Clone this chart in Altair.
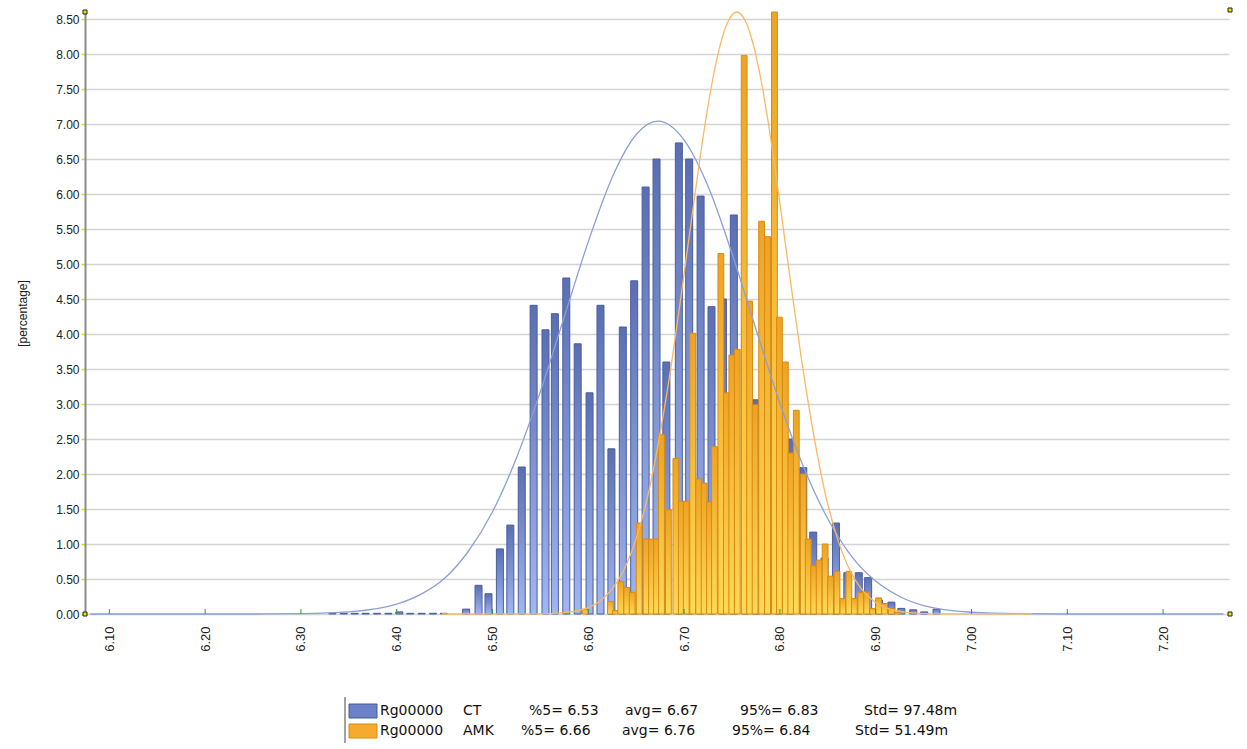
import altair as alt
import pandas as pd

# ---------------- data ----------------
# CT (blue) histogram: bin centre and percentage
ct_x = [6.3328, 6.3447, 6.3561, 6.3675, 6.3794, 6.3913, 6.4027, 6.4141, 6.4260, 6.4379, 6.4492,
        6.4725, 6.4854, 6.4958, 6.5077, 6.5186, 6.5305, 6.5429, 6.5553, 6.5651, 6.5770,
        6.5889, 6.6013, 6.6127, 6.6241, 6.6360, 6.6479, 6.6598, 6.6712, 6.6815, 6.6945,
        6.7053, 6.7172, 6.7286, 6.7405, 6.7519, 6.7638, 6.7752, 6.7866, 6.7985, 6.8104,
        6.8244, 6.8348, 6.8466, 6.8585, 6.8704, 6.8823, 6.8921, 6.9035, 6.9164, 6.9268,
        6.9392, 6.9506, 6.9635]
ct_pct = [0.01, 0.01, 0.01, 0.01, 0.01, 0.01, 0.03, 0.01, 0.01, 0.01, 0.01,
          0.07, 0.41, 0.29, 0.93, 1.27, 2.10, 4.41, 4.06, 4.29, 4.80,
          3.86, 3.16, 4.41, 2.36, 4.10, 4.76, 6.10, 6.50, 3.60, 6.73,
          6.50, 5.97, 4.39, 4.50, 5.70, 4.20, 3.06, 3.50, 2.80, 2.50,
          2.09, 1.17, 0.80, 1.30, 0.59, 0.59, 0.52, 0.20, 0.17, 0.08,
          0.06, 0.03, 0.07]

# AMK (orange) histogram: bin centre and percentage
amk_x = [6.5968, 6.6231, 6.6282, 6.6339, 6.6401, 6.6458, 6.6531, 6.6603, 6.6660, 6.6712,
         6.6764, 6.6836, 6.6914, 6.6971, 6.7022, 6.7090, 6.7152, 6.7209, 6.7265, 6.7317,
         6.7384, 6.7441, 6.7498, 6.7555, 6.7627, 6.7684, 6.7741, 6.7809, 6.7871, 6.7943,
         6.7995, 6.8057, 6.8114, 6.8171, 6.8244, 6.8296, 6.8353, 6.8410, 6.8472, 6.8529,
         6.8596, 6.8658, 6.8720, 6.8777, 6.8844, 6.8906, 6.8968, 6.9030, 6.9092, 6.9164,
         6.9231]
amk_pct = [0.07, 0.18, 0.05, 0.46, 0.38, 0.31, 1.30, 1.07, 1.07, 1.07,
           2.56, 1.49, 2.22, 1.61, 1.61, 4.01, 1.93, 1.87, 1.60, 2.39,
           5.15, 3.16, 3.70, 3.78, 7.98, 4.47, 2.99, 5.61, 5.39, 8.60,
           4.24, 3.60, 2.30, 2.91, 2.00, 1.07, 0.69, 0.77, 1.00, 0.54,
           0.61, 0.22, 0.61, 0.22, 0.31, 0.31, 0.08, 0.23, 0.15, 0.08,
           0.02]

# fitted normal curves
ct_curve_x = [6.08, 6.25, 6.30, 6.35, 6.40, 6.425, 6.45, 6.475, 6.50, 6.525, 6.55, 6.575,
              6.60, 6.625, 6.65, 6.673, 6.70, 6.725, 6.75, 6.775, 6.80, 6.825, 6.85,
              6.875, 6.90, 6.925, 6.95, 7.00, 7.05, 7.10, 7.263]
ct_curve_y = [0.0, 0.0, 0.005, 0.03, 0.14, 0.28, 0.51, 0.90, 1.46, 2.23, 3.18, 4.25,
              5.32, 6.24, 6.85, 7.04, 6.77, 6.11, 5.15, 4.07, 3.01, 2.09, 1.36,
              0.82, 0.47, 0.25, 0.12, 0.025, 0.004, 0.0, 0.0]

amk_curve_x = [6.447, 6.55, 6.575, 6.60, 6.6125, 6.625, 6.6375, 6.65, 6.6625, 6.675, 6.6875,
               6.70, 6.715, 6.7225, 6.73, 6.745, 6.755, 6.765, 6.78, 6.7875, 6.795, 6.81,
               6.8225, 6.835, 6.8475, 6.86, 6.8725, 6.885, 6.8975, 6.91, 6.935, 6.96, 7.063]
amk_curve_y = [0.0, 0.003, 0.02, 0.09, 0.19, 0.36, 0.64, 1.08, 1.71, 2.58, 3.64,
               4.86, 6.36, 7.05, 7.65, 8.44, 8.60, 8.44, 7.65, 7.05, 6.36, 4.86,
               3.64, 2.58, 1.71, 1.08, 0.64, 0.36, 0.19, 0.09, 0.02, 0.003, 0.0]

x_ticks = [6.1, 6.2, 6.3, 6.4, 6.5, 6.6, 6.7, 6.8, 6.9, 7.0, 7.1, 7.2]
y_ticks = [0, 0.5, 1, 1.5, 2, 2.5, 3, 3.5, 4, 4.5, 5, 5.5, 6, 6.5, 7, 7.5, 8, 8.5]

legend_id = ["Rg00000", "Rg00000"]
legend_series = ["CT", "AMK"]
legend_p5 = ["6.53", "6.66"]
legend_avg = ["6.67", "6.76"]
legend_p95 = ["6.83", "6.84"]
legend_std = ["97.48m", "51.49m"]

# ---------------- tables ----------------
ct_df = pd.DataFrame({"x": ct_x, "y": ct_pct})
amk_df = pd.DataFrame({"x": amk_x, "y": amk_pct})
ct_curve = pd.DataFrame({"x": ct_curve_x, "y": ct_curve_y})
amk_curve = pd.DataFrame({"x": amk_curve_x, "y": amk_curve_y})
tick_df = pd.DataFrame({"x": x_ticks})
dummy = pd.DataFrame({"k": [0]})

FONT = "Liberation Sans"

X = alt.X("x:Q",
          scale=alt.Scale(domain=[6.0798, 7.2636], nice=False, zero=False),
          axis=alt.Axis(values=x_ticks, format=".2f", labelAngle=270, title=None,
                        grid=False, domain=False, ticks=False, labelPadding=12,
                        labelFont=FONT, labelFontSize=13, labelColor="#222222"))
Y = alt.Y("y:Q",
          scale=alt.Scale(domain=[0, 8.6], nice=False, zero=True),
          axis=alt.Axis(values=y_ticks, format=".2f", title="[percentage]",
                        grid=True, gridColor="#d4d4d4", gridWidth=1.5,
                        domainColor="#8c8c8c", domainWidth=2,
                        tickColor="#e0e000", tickSize=4, tickWidth=1.5, labelPadding=2,
                        labelFont=FONT, labelFontSize=12, labelColor="#222222",
                        titleFont=FONT, titleFontSize=12, titleFontWeight="normal",
                        titleColor="#222222", titleAngle=270, titleX=-63, titleY=301,
                        titleAlign="center", titleBaseline="middle"))

blue_grad = alt.Gradient(gradient="linear",
                         stops=[alt.GradientStop(color="#5a6fb2", offset=0),
                                alt.GradientStop(color="#a2b6f2", offset=1)],
                         x1=0, x2=0, y1=0, y2=1)
orange_grad = alt.Gradient(gradient="linear",
                           stops=[alt.GradientStop(color="#eea323", offset=0),
                                  alt.GradientStop(color="#ffd955", offset=1)],
                           x1=0, x2=0, y1=0, y2=1)

ct_bars = alt.Chart(ct_df).mark_bar(width=7, color=blue_grad, stroke="#4a5e9e",
                                    strokeWidth=1).encode(x=X, y=Y)
amk_bars = alt.Chart(amk_df).mark_bar(width=5.8, color=orange_grad, stroke="#d98b12",
                                      strokeWidth=1).encode(x=X, y=Y)
ct_line = alt.Chart(ct_curve).mark_line(color="#8b9fd8", strokeWidth=1.3,
                                        interpolate="monotone").encode(x=X, y=Y)
amk_line = alt.Chart(amk_curve).mark_line(color="#f9b862", strokeWidth=1.3,
                                          interpolate="monotone").encode(x=X, y=Y)
green_ticks = alt.Chart(tick_df).mark_rule(color="#2a9a3a", strokeWidth=1).encode(
    x=X, y=alt.value(597), y2=alt.value(602))

layers = [ct_bars, amk_bars, ct_line, amk_line, green_ticks]

# corner markers
for cx, cy in [(0, 0), (0, 602), (1145, -2), (1145, 602)]:
    layers.append(alt.Chart(dummy).mark_square(size=16, color="#e6e600", stroke="#222222",
                                               strokeWidth=1, opacity=1).encode(
        x=alt.value(cx), y=alt.value(cy)))

# ---------------- legend (drawn below the plot) ----------------
layers.append(alt.Chart(dummy).mark_rule(color="#444444", strokeWidth=1).encode(
    x=alt.value(260), y=alt.value(685), y2=alt.value(731)))

swatch_fill = ["#6c82c8", "#f7ab2e"]
swatch_stroke = ["#44589a", "#d88a10"]
row_y = [699, 719]
col_x = [[295, 378, 444, 540, 655, 779],
         [295, 378, 436, 537, 647, 770]]
for i in range(2):
    layers.append(alt.Chart(dummy).mark_rect(color=swatch_fill[i], stroke=swatch_stroke[i],
                                             strokeWidth=1).encode(
        x=alt.value(264), x2=alt.value(292), y=alt.value(row_y[i] - 7), y2=alt.value(row_y[i] + 7)))
    texts = [legend_id[i], legend_series[i], "%5= " + legend_p5[i], "avg= " + legend_avg[i],
             "95%= " + legend_p95[i], "Std= " + legend_std[i]]
    for t, xx in zip(texts, col_x[i]):
        layers.append(alt.Chart(dummy).mark_text(align="left", baseline="middle",
                                                 font="DejaVu Sans", fontSize=14,
                                                 color="#111111").encode(
            x=alt.value(xx), y=alt.value(row_y[i]), text=alt.value(t)))

chart = alt.layer(*layers).properties(
    width=1144, height=602,
    autosize=alt.AutoSizeParams(type="none"),
    padding={"left": 85, "top": 12, "right": 18, "bottom": 135},
    background="white",
).configure_view(stroke=None)

chart.save("out.html", embed_options={"renderer": "svg", "actions": False})
